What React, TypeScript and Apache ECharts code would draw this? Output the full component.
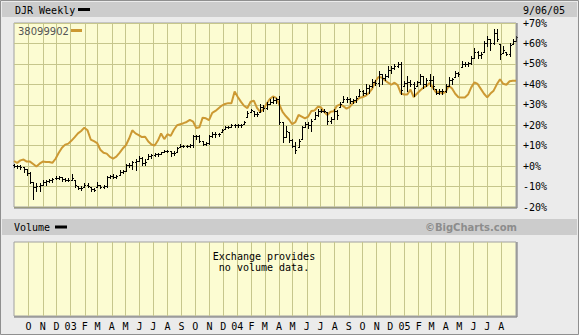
import React, { useEffect, useRef } from "react";
import * as echarts from "echarts";

// ---- axis / calendar settings ----
const START_UTC = Date.UTC(2002, 7, 30); // first weekly bar (Fri 30 Aug 2002)
const DAY_COUNT = 1100; // daily categories up to 2 Sep 2005
const WEEK_STEP = 7;
const MONTH_LETTERS = ["J", "F", "M", "A", "M", "J", "J", "A", "S", "O", "N", "D"];
const Y_MIN = -20;
const Y_MAX = 70;
const Y_STEP = 10;

// ---- 38099902 (comparison line, % change) ----
const peerValues = [
  2.5, 1.6, 2.8, 3.2, 2.2, 2.2, 1.0, -0.2, 1.2, 2.2,
  2.0, 2.0, 1.6, 3.6, 6.5, 9.0, 10.5, 11.0, 12.5, 14.2,
  16.0, 17.2, 18.8, 17.5, 13.0, 12.2, 11.3, 8.0, 6.5, 6.1,
  4.5, 3.7, 4.6, 6.5, 8.6, 10.2, 13.5, 17.5, 16.0, 15.2,
  14.2, 14.4, 12.0, 10.6, 10.1, 12.5, 16.0, 13.2, 15.6, 14.8,
  17.8, 20.0, 20.5, 21.0, 21.6, 22.6, 21.8, 18.6, 19.0, 23.7,
  23.4, 22.5, 26.0, 27.0, 28.3, 29.6, 30.4, 30.8, 30.8, 36.5,
  33.8, 31.4, 29.4, 28.4, 31.5, 32.0, 28.5, 26.5, 27.8, 30.5,
  32.8, 34.1, 33.4, 30.0, 26.5, 24.5, 22.8, 20.5, 21.5, 25.0,
  24.2, 23.3, 24.2, 27.0, 27.2, 29.0, 28.8, 26.5, 25.0, 26.6,
  26.8, 29.5, 30.2, 29.3, 28.1, 29.0, 30.8, 32.0, 33.3, 33.8,
  34.4, 35.8, 37.8, 41.4, 43.6, 43.4, 42.0, 40.8, 39.8, 40.8,
  39.6, 35.6, 35.0, 35.0, 37.4, 33.8, 35.4, 37.0, 38.3, 39.2,
  40.6, 38.4, 36.0, 36.4, 35.5, 36.4, 39.3, 38.0, 35.4, 33.7,
  33.6, 33.6, 35.0, 38.5, 41.0, 40.2, 37.8, 35.4, 33.6, 35.5,
  36.9, 40.0, 42.5, 40.3, 39.8, 41.5, 41.8, 41.8,
];

// ---- DJR weekly OHLC (% change) ----
const djrOpen = [
  0.5, 0, 0, -0.5, -1.5, -3.5, -8, -10, -9.5, -9,
  -7.8, -7.5, -7, -6, -5.8, -5.5, -6.5, -6.8, -7, -7,
  -9.5, -10.5, -10, -9, -10, -11, -10, -9, -10, -9.5,
  -5.5, -5, -5.5, -4.5, -3, -2.5, 0.5, 0.5, 2, 2.7,
  4, 1.5, 3.6, 5, 5.5, 5.8, 6, 6.8, 7.5, 7.5,
  6.5, 6.8, 9.3, 10, 10, 9.8, 10.5, 14.5, 14.5, 12.5,
  11, 11.5, 14.5, 15.5, 15.5, 16.6, 18.2, 19, 19.2, 20,
  20, 20, 20.6, 24, 26.5, 27, 25.5, 26.3, 29, 28.5,
  30.5, 31.5, 32.5, 33, 21.5, 14.1, 16.6, 13, 10, 9.3,
  13.3, 19, 20.5, 20, 23, 25, 27, 27, 26.3, 22,
  23, 27, 28.8, 31.2, 33, 33, 32, 32.5, 34.4, 36.5,
  36, 38, 39, 41, 40.5, 45, 43, 44, 47, 48,
  49, 50, 39.4, 40.5, 41, 40, 39.4, 41, 44, 40,
  42, 42, 37.7, 36, 36.5, 36.5, 39.4, 42, 43.4, 45.5,
  48.3, 50, 50, 50.5, 53, 56, 54.5, 56, 60, 62,
  60, 65, 59.6, 55.4, 56, 55, 59.6, 61,
];
const djrHigh = [
  1, 0.5, 0.5, -0.5, -1.5, -3, -8, -8.5, -8.5, -7,
  -7, -6.5, -6, -5, -5, -5.5, -6, -6, -4, -7,
  -9.5, -9.5, -8.5, -8.5, -10, -10.5, -8, -9, -9, -4.6,
  -4.5, -4, -4.5, -2, -2, 1, 1.5, 2.7, 3.6, 5,
  4.4, 3.5, 6, 6, 6.5, 6.2, 7.1, 8, 8, 7.5,
  7.2, 9.3, 10.9, 10.5, 10.5, 11, 15, 15, 15, 12.5,
  12, 15, 16.6, 16.6, 16, 18.2, 19.8, 19.8, 20.6, 20.6,
  20.8, 20.6, 22.2, 27, 28, 27, 26.5, 30.4, 30, 31.2,
  32.8, 34, 33.5, 34.4, 21.5, 19.8, 16.6, 13.3, 11.7, 13.3,
  19.8, 21.5, 21.5, 23, 26.3, 28, 28, 27.8, 26.3, 24,
  28, 27.5, 31.2, 34.4, 34, 33.5, 33, 34.5, 37.7, 37,
  40, 39.5, 42.6, 42, 46.6, 45, 45, 49, 49, 49.9,
  50.7, 50.7, 41.8, 44.2, 42, 41, 41.8, 45, 44, 43,
  45, 44, 37.7, 37.5, 37.5, 40.2, 43.4, 43, 46.6, 46,
  51.5, 51, 51, 54, 57.8, 56.2, 56, 61, 63.7, 62,
  66.9, 66.9, 59.6, 58.7, 56, 60, 62, 63.8,
];
const djrLow = [
  -0.5, -1, -1.5, -3, -4.5, -8.5, -16, -12, -12, -9,
  -9, -8, -8, -6.5, -6.5, -7.5, -7.5, -7.5, -7, -10,
  -11, -11.5, -10, -10, -12, -12, -10, -10.5, -10.5, -10.2,
  -6, -6, -6, -4.5, -3.5, -2.5, -0.5, -1.3, -2, 2.7,
  0.3, 0.5, 3.6, 4, 5, 5, 6, 6.8, 6.8, 5,
  5.5, 6.8, 9.3, 9.3, 9.3, 9.5, 9.3, 13.5, 12, 10.4,
  10.4, 11, 14, 14, 14.5, 16.6, 18.2, 18.5, 19, 19,
  19.2, 19.2, 20.6, 24, 26.5, 24.5, 24.5, 26.3, 27, 28,
  30.4, 31, 31, 20.6, 12, 14.1, 12, 9.3, 6.5, 9.3,
  13.3, 19, 18.5, 17.4, 23, 24.5, 26.5, 26.3, 20.6, 21,
  23, 23, 28.8, 31.2, 31.5, 31, 31, 31.5, 34.4, 35,
  35.3, 36, 38.5, 39.5, 39.3, 40.2, 42, 43.4, 45.7, 47.5,
  48.3, 35.3, 39.4, 36.9, 39, 34.5, 39.4, 40.2, 38, 39,
  39.4, 37.7, 35.3, 35.5, 35.5, 36.1, 39.4, 40, 43.4, 44,
  48.3, 49, 49, 49.9, 53, 53, 53, 56, 58.7, 57,
  59.6, 61, 52.3, 55.4, 54.5, 54, 59.6, 61,
];
const djrClose = [
  0, 0, -0.5, -1.5, -3.5, -7.8, -10, -9.5, -9, -7.8,
  -7.5, -7, -6.5, -5.8, -5.5, -6.5, -6.8, -7, -6, -9,
  -10.5, -10.5, -9, -9.5, -11, -11.5, -9, -10, -9.5, -5.5,
  -5, -5.5, -5, -3, -2.6, 0.5, 0.5, 2, 2.5, 4,
  1.5, 2, 5, 5.5, 5.8, 5.8, 6.8, 7.5, 7.5, 6.5,
  6.5, 8.8, 10, 10, 9.8, 10.5, 14.5, 14.5, 12.5, 11,
  11.5, 14.5, 15.5, 15.5, 15.5, 17.5, 19, 19.2, 20, 20,
  20, 20, 21.5, 26, 27.5, 25.5, 25.5, 29, 28.5, 30.5,
  31.5, 32.5, 33, 21.5, 14, 17, 13, 10, 8, 12.5,
  19, 20.5, 20, 22, 25, 27, 27, 27, 22, 23,
  27, 25, 30.5, 33, 33, 32, 32.5, 33.5, 36.5, 36,
  38, 39, 41, 40.5, 45, 43, 44, 47, 48, 49,
  50, 37, 40.5, 41, 40, 38, 41, 44, 40, 42,
  42, 39, 36, 36.5, 36.5, 39, 42, 42.5, 45.5, 45,
  50, 50, 50.5, 53, 56, 54.5, 55, 60, 62, 60,
  65, 62, 55, 57, 55, 59, 61, 63,
];

// ---- derived tables for the library ----
const dayCategories: string[] = [];
for (let d = 0; d < DAY_COUNT; d++) {
  dayCategories.push(new Date(START_UTC + d * 86400000).toISOString().slice(0, 10));
}
const EDGE_DAYS = 6; // month starts this close to the plot edges fall on the border
const isMonthStart = (index: number, value: string) =>
  index > EDGE_DAYS && index < DAY_COUNT - EDGE_DAYS && String(value).slice(8) === "01";
const monthLabel = (value: string) => {
  const m = Number(String(value).slice(5, 7));
  return m === 1 ? String(value).slice(2, 4) : MONTH_LETTERS[m - 1];
};
const peerData = peerValues.map((v, i) => [i * WEEK_STEP, v]);
const djrData = djrOpen.map((o, i) => [i * WEEK_STEP, o, djrHigh[i], djrLow[i], djrClose[i]]);

const MONO = '"DejaVu Sans Mono", "Liberation Mono", monospace';
const SANS = '"DejaVu Sans", Verdana, sans-serif';
const GRID_LINE = "#c6c68c";
const PLOT_BG = "#fcfcd2";
const GOLD = "#cc9933";
const BAR_GRAY = "#cccccc";

export default function App() {
  const ref = useRef<HTMLDivElement>(null);
  useEffect(() => {
    if (!ref.current) return;
    const chart = echarts.init(ref.current, undefined, { renderer: "svg" });
    const crisp = (v: number) => Math.round(v) + 0.5;
    const option: any = {
      animation: false,
      backgroundColor: "#ebebeb",
      textStyle: { fontFamily: MONO },
      grid: [
        { left: 14, right: 63, top: 23, height: 184, show: true, backgroundColor: PLOT_BG, borderColor: "#a0a0a0", borderWidth: 1 },
        { left: 14, right: 63, top: 242, height: 74, show: true, backgroundColor: PLOT_BG, borderColor: "#a0a0a0", borderWidth: 1 },
      ],
      xAxis: [
        {
          type: "category", gridIndex: 0, data: dayCategories, boundaryGap: false,
          axisLine: { show: false }, axisTick: { show: false, interval: isMonthStart },
          axisLabel: { show: false },
          splitLine: { show: true, interval: isMonthStart, lineStyle: { color: GRID_LINE, width: 1 } },
        },
        {
          type: "category", gridIndex: 1, data: dayCategories, boundaryGap: false,
          axisLine: { show: false }, axisTick: { show: false, interval: isMonthStart },
          axisLabel: {
            show: true, interval: isMonthStart, formatter: monthLabel, margin: 5,
            color: "#000", fontFamily: MONO, fontSize: 10,
          },
          splitLine: { show: true, interval: isMonthStart, lineStyle: { color: GRID_LINE, width: 1 } },
        },
      ],
      yAxis: [
        {
          type: "value", gridIndex: 0, position: "right", min: Y_MIN, max: Y_MAX, interval: Y_STEP,
          axisLine: { show: false }, axisTick: { show: false },
          axisLabel: {
            margin: 7, color: "#000", fontFamily: MONO, fontSize: 10,
            formatter: (v: number) => (v >= 0 ? "+" : "") + v + "%",
          },
          splitLine: { show: true, lineStyle: { color: GRID_LINE, width: 1 } },
        },
        { type: "value", gridIndex: 1, min: 0, max: 1, show: false, splitLine: { show: false } },
      ],
      series: [
        {
          name: "38099902", type: "line", xAxisIndex: 0, yAxisIndex: 0, data: peerData,
          showSymbol: false, lineStyle: { color: GOLD, width: 2 }, z: 3,
        },
        {
          name: "DJR", type: "custom", xAxisIndex: 0, yAxisIndex: 0, data: djrData, z: 4,
          encode: { x: 0, y: [1, 2, 3, 4] },
          renderItem: (_p: any, api: any) => {
            const x = api.value(0);
            const ph = api.coord([x, api.value(2)]);
            const pl = api.coord([x, api.value(3)]);
            const po = api.coord([x, api.value(1)]);
            const pc = api.coord([x, api.value(4)]);
            const px = crisp(ph[0]);
            const st = { stroke: "#000", lineWidth: 1 };
            return {
              type: "group",
              children: [
                { type: "line", shape: { x1: px, y1: Math.round(ph[1]), x2: px, y2: Math.round(pl[1]) + 1 }, style: st },
                { type: "line", shape: { x1: px - 1.5, y1: crisp(po[1]), x2: px, y2: crisp(po[1]) }, style: st },
                { type: "line", shape: { x1: px, y1: crisp(pc[1]), x2: px + 1.5, y2: crisp(pc[1]) }, style: st },
              ],
            };
          },
        },
      ],
      graphic: [
        { type: "rect", shape: { x: 0.5, y: 0.5, width: 578, height: 334 }, style: { fill: "none", stroke: "#8f8f8f", lineWidth: 1 }, z: 10 },
        { type: "rect", shape: { x: 2, y: 2, width: 575, height: 15 }, style: { fill: BAR_GRAY } },
        { type: "text", style: { text: "DJR Weekly", x: 15, y: 10, font: `10px ${MONO}`, fill: "#000", verticalAlign: "middle" } },
        { type: "rect", shape: { x: 78, y: 8, width: 12, height: 3 }, style: { fill: "#000" } },
        { type: "text", style: { text: "9/06/05", x: 523, y: 10, font: `10px ${MONO}`, fill: "#000", verticalAlign: "middle" } },
        { type: "text", z: 20, style: { text: "38099902", x: 18, y: 31, font: `10px ${SANS}`, fill: "#555555", verticalAlign: "middle" } },
        { type: "rect", z: 20, shape: { x: 71, y: 29, width: 11, height: 3 }, style: { fill: GOLD } },
        { type: "line", z: 20, shape: { x1: 14, y1: 208, x2: 517, y2: 208 }, style: { stroke: "#707070", lineWidth: 1 } },
        { type: "line", z: 20, shape: { x1: 517, y1: 23, x2: 517, y2: 208 }, style: { stroke: "#707070", lineWidth: 1 } },
        { type: "rect", shape: { x: 2, y: 219, width: 575, height: 16 }, style: { fill: BAR_GRAY } },
        { type: "text", style: { text: "Volume", x: 14, y: 227, font: `10px ${MONO}`, fill: "#000", verticalAlign: "middle" } },
        { type: "rect", shape: { x: 55, y: 225.5, width: 12, height: 3 }, style: { fill: "#000" } },
        { type: "text", style: { text: "\u00a9BigCharts.com", x: 517, y: 227, font: `bold 10px ${SANS}`, fill: "#8c8c8c", align: "right", verticalAlign: "middle" } },
        { type: "text", z: 20, style: { text: "Exchange provides", x: 264, y: 256.5, font: `10px ${MONO}`, fill: "#000", align: "center", verticalAlign: "middle" } },
        { type: "text", z: 20, style: { text: "no volume data.", x: 264, y: 267.5, font: `10px ${MONO}`, fill: "#000", align: "center", verticalAlign: "middle" } },
        { type: "line", z: 20, shape: { x1: 14, y1: 317, x2: 517, y2: 317 }, style: { stroke: "#707070", lineWidth: 1 } },
        { type: "line", z: 20, shape: { x1: 517, y1: 242, x2: 517, y2: 317 }, style: { stroke: "#707070", lineWidth: 1 } },
      ],
    };
    chart.setOption(option);
    return () => chart.dispose();
  }, []);
  return <div ref={ref} style={{ position: "absolute", left: 0, top: 0, width: 579, height: 335 }} />;
}
